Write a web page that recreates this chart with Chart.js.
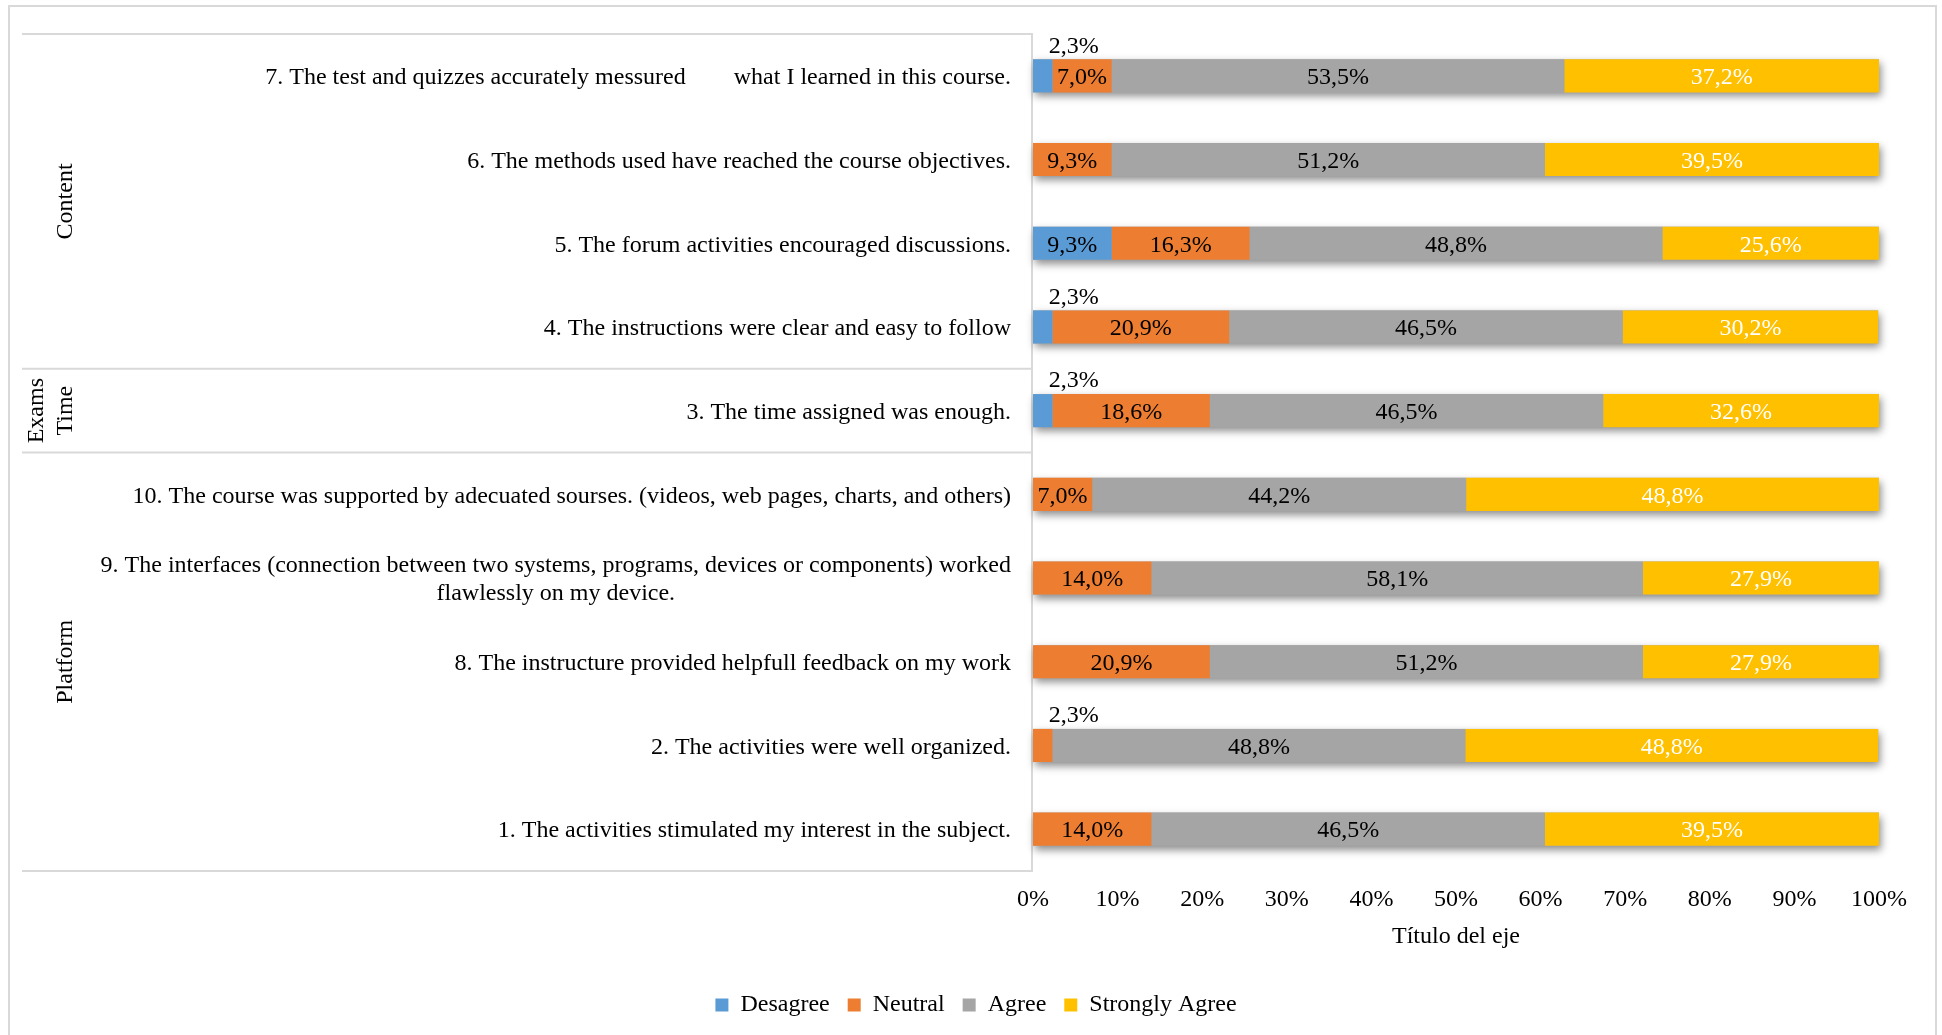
<!DOCTYPE html>
<html>
<head>
<meta charset="utf-8">
<script src="https://cdn.jsdelivr.net/npm/chart.js@4"></script>
<style>
  html, body { margin: 0; padding: 0; background: #fff; }
  #wrap { width: 1942px; height: 1035px; }
</style>
</head>
<body>
<div id="wrap"><canvas id="surveyChart" width="1942" height="1035"></canvas></div>
<script>
// Preguntas (de arriba hacia abajo)
const categories = [
  '7. The test and quizzes accurately messured        what I learned in this course.',
  '6. The methods used have reached the course objectives.',
  '5. The forum activities encouraged discussions.',
  '4. The instructions were clear and easy to follow',
  '3. The time assigned was enough.',
  '10. The course was supported by adecuated sourses. (videos, web pages, charts, and others)',
  ['9. The interfaces (connection between two systems, programs, devices or components) worked', 'flawlessly on my device.'],
  '8. The instructure provided helpfull feedback on my work',
  '2. The activities were well organized.',
  '1. The activities stimulated my interest in the subject.'
];

// Porcentajes por serie
const desagree = [2.3, 0, 9.3, 2.3, 2.3, 0, 0, 0, 0, 0];
const neutral = [7.0, 9.3, 16.3, 20.9, 18.6, 7.0, 14.0, 20.9, 2.3, 14.0];
const agree = [53.5, 51.2, 48.8, 46.5, 46.5, 44.2, 58.1, 51.2, 48.8, 46.5];
const stronglyAgree = [37.2, 39.5, 25.6, 30.2, 32.6, 48.8, 27.9, 27.9, 48.8, 39.5];

const xTicks = [0, 10, 20, 30, 40, 50, 60, 70, 80, 90, 100];

// Grupos de preguntas
const groupNames = [['Content'], ['Exams', 'Time'], ['Platform']];
const groupFirstRow = [0, 4, 5];
const groupLastRow = [3, 4, 9];

const FONT = '"Liberation Serif", "Times New Roman", serif';
const LINE_GRAY = '#D9D9D9';

Chart.defaults.font.family = FONT;
Chart.defaults.font.size = 24;
Chart.defaults.color = '#000';

// marco, lineas de grupos y etiquetas de categorias
const framePlugin = {
  id: 'frame',
  beforeDraw(chart) {
    const ctx = chart.ctx;
    const area = chart.chartArea;
    const y = chart.scales.y;
    ctx.save();
    ctx.fillStyle = '#fff';
    ctx.fillRect(0, 0, chart.width, chart.height);

    ctx.strokeStyle = LINE_GRAY;
    ctx.lineWidth = 2;
    ctx.strokeRect(9, 6, 1927, 1040);

    const rowH = (area.bottom - area.top) / categories.length;
    const lineLeft = 22;
    ctx.beginPath();
    groupFirstRow.forEach(r => {
      const yy = area.top + r * rowH;
      ctx.moveTo(lineLeft, yy);
      ctx.lineTo(area.left, yy);
    });
    ctx.moveTo(lineLeft, area.bottom);
    ctx.lineTo(area.left, area.bottom);
    ctx.moveTo(area.left - 1, area.top);
    ctx.lineTo(area.left - 1, area.bottom);
    ctx.stroke();

    // nombres de grupos, rotados
    ctx.fillStyle = '#000';
    ctx.font = '24px ' + FONT;
    ctx.textAlign = 'center';
    ctx.textBaseline = 'middle';
    groupNames.forEach((lines, g) => {
      const yc = (y.getPixelForValue(groupFirstRow[g]) + y.getPixelForValue(groupLastRow[g])) / 2;
      lines.forEach((txt, k) => {
        const xx = 66 - 29 * (lines.length - 1 - k);
        ctx.save();
        ctx.translate(xx, yc);
        ctx.rotate(-Math.PI / 2);
        ctx.fillText(txt, 0, 0);
        ctx.restore();
      });
    });

    // etiquetas de preguntas
    const right = area.left - 22;
    categories.forEach((lab, i) => {
      const lines = Array.isArray(lab) ? lab : [lab];
      const maxW = Math.max(...lines.map(t => ctx.measureText(t).width));
      const yc = y.getPixelForValue(i) + 2;
      lines.forEach((t, k) => {
        ctx.fillText(t, right - maxW / 2, yc + (k - (lines.length - 1) / 2) * 28);
      });
    });
    ctx.restore();
  }
};

// sombra debajo de cada barra
const shadowPlugin = {
  id: 'barShadow',
  beforeDatasetsDraw(chart) {
    const ctx = chart.ctx;
    const first = chart.getDatasetMeta(0).data;
    const last = chart.getDatasetMeta(chart.data.datasets.length - 1).data;
    ctx.save();
    ctx.shadowColor = 'rgba(0,0,0,0.45)';
    ctx.shadowBlur = 8;
    ctx.shadowOffsetX = 2;
    ctx.shadowOffsetY = 4;
    ctx.fillStyle = '#A5A5A5';
    first.forEach((el, i) => {
      const l = el.base;
      const r = last[i].x;
      const h = el.height;
      ctx.fillRect(l, el.y - h / 2, r - l, h);
    });
    ctx.restore();
  }
};

// etiquetas de valores
const valueLabels = {
  id: 'valueLabels',
  afterDatasetsDraw(chart) {
    const ctx = chart.ctx;
    ctx.save();
    ctx.font = '24px ' + FONT;
    ctx.textAlign = 'center';
    ctx.textBaseline = 'middle';
    chart.data.datasets.forEach((ds, d) => {
      chart.getDatasetMeta(d).data.forEach((el, i) => {
        const v = ds.data[i];
        if (!v) return;
        const txt = v.toFixed(1).replace('.', ',') + '%';
        const cx = (el.x + el.base) / 2;
        if (v < 5) {
          ctx.fillStyle = '#000';
          ctx.fillText(txt, cx + 31, el.y - el.height / 2 - 13);
        } else {
          ctx.fillStyle = d === 3 ? '#fff' : '#000';
          ctx.fillText(txt, cx, el.y + 2);
        }
      });
    });
    ctx.restore();
  }
};

const surveyData = {
  labels: categories,
  datasets: [
    { label: 'Desagree', data: desagree, backgroundColor: '#5B9BD5' },
    { label: 'Neutral', data: neutral, backgroundColor: '#ED7D31' },
    { label: 'Agree', data: agree, backgroundColor: '#A5A5A5' },
    { label: 'Strongly Agree', data: stronglyAgree, backgroundColor: '#FFC000' }
  ].map(ds => Object.assign(ds, { borderWidth: 0, barPercentage: 0.395, categoryPercentage: 1 }))
};

const config = {
  type: 'bar',
  data: surveyData,
  options: {
    indexAxis: 'y',
    responsive: false,
    animation: false,
    layout: { padding: { left: 73, right: 63, top: 34, bottom: 8 } },
    plugins: {
      legend: {
        position: 'bottom',
        labels: { boxWidth: 13, boxHeight: 13, padding: 18, font: { size: 24 }, color: '#000' }
      },
      tooltip: { enabled: false }
    },
    scales: {
      x: {
        stacked: true,
        min: 0,
        max: 100,
        afterBuildTicks: s => { s.ticks = xTicks.map(v => ({ value: v })); },
        ticks: { padding: 17, font: { size: 24, lineHeight: 1 }, color: '#000', callback: v => v + '%' },
        grid: { display: false, drawTicks: false },
        border: { display: false },
        title: { display: true, text: 'Título del eje', font: { size: 24, lineHeight: 1 }, color: '#000', padding: { top: -4, bottom: 26 } }
      },
      y: {
        stacked: true,
        ticks: { display: false },
        grid: { display: false },
        border: { display: false },
        afterFit: s => { s.width = 960; }
      }
    }
  },
  plugins: [framePlugin, shadowPlugin, valueLabels]
};

new Chart(document.getElementById('surveyChart').getContext('2d'), config);
</script>
</body>
</html>
